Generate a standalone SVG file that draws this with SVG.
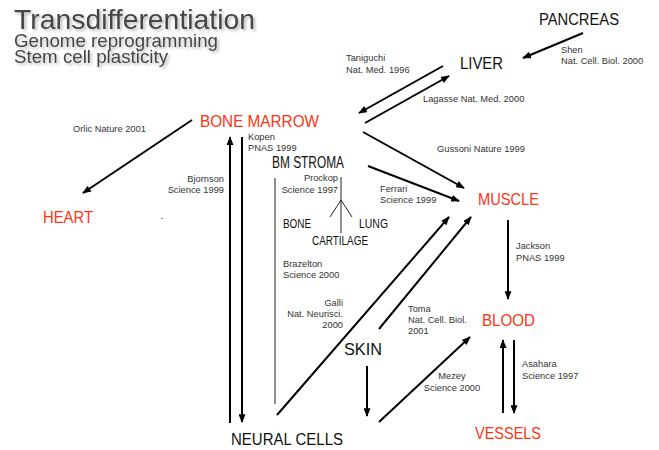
<svg xmlns="http://www.w3.org/2000/svg" width="659" height="450" viewBox="0 0 659 450">
<defs>
<marker id="ah" viewBox="0 0 10 8" markerWidth="9" markerHeight="7" refX="9" refY="4" orient="auto" markerUnits="userSpaceOnUse">
<path d="M0,0 L10,4 L0,8 z" fill="#000"/>
</marker>
<filter id="sh" x="-5%" y="-20%" width="115%" height="150%">
<feDropShadow dx="2" dy="2" stdDeviation="1.5" flood-color="#999" flood-opacity="0.7"/>
</filter>
<style>
.t{font-family:"Liberation Sans",Arial,sans-serif;fill:#444;filter:url(#sh)}
.n{font-family:"Liberation Sans",Arial,sans-serif;font-size:16px;fill:#111}
.r{font-family:"Liberation Sans",Arial,sans-serif;font-size:17px;fill:#ff3311}
.s{font-family:"Liberation Sans",Arial,sans-serif;font-size:12px;fill:#111}
.c{font-family:"Liberation Sans",Arial,sans-serif;font-size:9.3px;fill:#333}
.a{stroke:#000;stroke-width:2;fill:none;marker-end:url(#ah)}
.l{stroke:#000;stroke-width:2;fill:none}
.th{stroke:#222;stroke-width:1;fill:none}
</style>
</defs>
<rect width="659" height="450" fill="#fff"/>
<g id="title">
<text class="t" x="14" y="29" font-size="28" textLength="241" lengthAdjust="spacingAndGlyphs">Transdifferentiation</text>
<text class="t" x="14" y="47" font-size="19" textLength="204" lengthAdjust="spacingAndGlyphs">Genome reprogramming</text>
<text class="t" x="14" y="63" font-size="19" textLength="154" lengthAdjust="spacingAndGlyphs">Stem cell plasticity</text>
</g>
<g id="connectors">
<line class="a" x1="583" y1="33" x2="523" y2="58"/>
<line class="a" x1="443" y1="66" x2="359" y2="113"/>
<line class="a" x1="365" y1="123" x2="449" y2="76"/>
<line class="a" x1="192" y1="120" x2="83" y2="193"/>
<line class="a" x1="363" y1="132" x2="464" y2="188"/>
<line class="a" x1="368" y1="166" x2="459" y2="201"/>
<line class="a" x1="230" y1="423" x2="230" y2="137"/>
<line class="a" x1="242" y1="137" x2="242" y2="422"/>
<line class="th" x1="275" y1="178" x2="275" y2="404"/>
<line class="th" x1="341" y1="177" x2="341" y2="233"/>
<polyline class="th" points="330,217 341,200 352,217"/>
<line class="a" x1="277" y1="415" x2="449" y2="217"/>
<line class="a" x1="379" y1="329" x2="471" y2="217"/>
<line class="a" x1="367" y1="366" x2="367" y2="416"/>
<line class="a" x1="379" y1="422" x2="470" y2="337"/>
<line class="a" x1="508" y1="220" x2="508" y2="299"/>
<line class="a" x1="503" y1="413" x2="503" y2="340"/>
<line class="a" x1="514" y1="340" x2="514" y2="413"/>
<rect x="161.5" y="218" width="1" height="1" fill="#000"/>
</g>
<g id="pancreas"><text class="n" x="539" y="25" textLength="80" lengthAdjust="spacingAndGlyphs">PANCREAS</text></g>
<g id="liver"><text class="n" x="460" y="69" textLength="43" lengthAdjust="spacingAndGlyphs">LIVER</text></g>
<g id="bone-marrow"><text class="r" x="200" y="127" textLength="119" lengthAdjust="spacingAndGlyphs">BONE MARROW</text></g>
<g id="heart"><text class="r" x="43" y="223" textLength="50" lengthAdjust="spacingAndGlyphs">HEART</text></g>
<g id="bm-stroma"><text class="n" x="272" y="168" textLength="72" lengthAdjust="spacingAndGlyphs">BM STROMA</text></g>
<g id="bone"><text class="s" x="283" y="228" textLength="28" lengthAdjust="spacingAndGlyphs">BONE</text></g>
<g id="lung"><text class="s" x="359" y="228" textLength="29" lengthAdjust="spacingAndGlyphs">LUNG</text></g>
<g id="cartilage"><text class="s" x="312" y="245" textLength="56" lengthAdjust="spacingAndGlyphs">CARTILAGE</text></g>
<g id="muscle"><text class="r" x="478" y="205" textLength="61" lengthAdjust="spacingAndGlyphs">MUSCLE</text></g>
<g id="blood"><text class="r" x="482" y="326" textLength="53" lengthAdjust="spacingAndGlyphs">BLOOD</text></g>
<g id="vessels"><text class="r" x="475" y="439" textLength="66" lengthAdjust="spacingAndGlyphs">VESSELS</text></g>
<g id="skin"><text class="n" x="344" y="355" textLength="38" lengthAdjust="spacingAndGlyphs">SKIN</text></g>
<g id="neural-cells"><text class="n" x="231" y="445" textLength="112" lengthAdjust="spacingAndGlyphs">NEURAL CELLS</text></g>
<g id="labels">
<text class="c" x="346" y="61">Taniguchi</text>
<text class="c" x="346" y="73">Nat. Med. 1996</text>
<text class="c" x="561" y="53">Shen</text>
<text class="c" x="561" y="64">Nat. Cell. Biol. 2000</text>
<text class="c" x="423" y="102">Lagasse Nat. Med. 2000</text>
<text class="c" x="73" y="132">Orlic Nature 2001</text>
<text class="c" x="437" y="152">Gussoni Nature 1999</text>
<text class="c" x="248" y="140">Kopen</text>
<text class="c" x="248" y="151">PNAS 1999</text>
<text class="c" x="224" y="182" text-anchor="end">Bjornson</text>
<text class="c" x="224" y="193" text-anchor="end">Science 1999</text>
<text class="c" x="338" y="181" text-anchor="end">Prockop</text>
<text class="c" x="338" y="193" text-anchor="end">Science 1997</text>
<text class="c" x="380" y="192">Ferrari</text>
<text class="c" x="380" y="203">Science 1999</text>
<text class="c" x="283" y="267">Brazelton</text>
<text class="c" x="283" y="278">Science 2000</text>
<text class="c" x="343" y="306" text-anchor="end">Galli</text>
<text class="c" x="343" y="317" text-anchor="end">Nat. Neurisci.</text>
<text class="c" x="343" y="328" text-anchor="end">2000</text>
<text class="c" x="408" y="312">Toma</text>
<text class="c" x="408" y="323">Nat. Cell. Biol.</text>
<text class="c" x="408" y="334">2001</text>
<text class="c" x="452" y="379" text-anchor="middle">Mezey</text>
<text class="c" x="452" y="391" text-anchor="middle">Science 2000</text>
<text class="c" x="516" y="249">Jackson</text>
<text class="c" x="516" y="261">PNAS 1999</text>
<text class="c" x="522" y="367">Asahara</text>
<text class="c" x="522" y="379">Science 1997</text>
</g>
</svg>
